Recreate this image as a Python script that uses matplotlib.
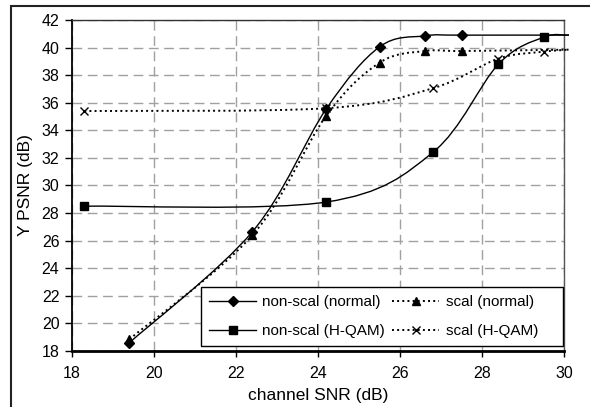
import matplotlib
matplotlib.use("Agg")
import matplotlib.pyplot as plt
from matplotlib.path import Path
from matplotlib.patches import PathPatch, Rectangle
from matplotlib.lines import Line2D

plt.rcParams['font.family'] = ['Liberation Sans', 'DejaVu Sans']
plt.rcParams['font.size'] = 11

# channel SNR (dB) -> Y PSNR (dB); last point sits just past the x-axis end
snr_normal = [19.4, 22.4, 24.2, 25.5, 26.6, 27.5, 30.12]
nonscal_normal = [18.6, 26.65, 35.55, 40.05, 40.85, 40.9, 40.9]
scal_normal = [18.85, 26.4, 35.05, 38.9, 39.75, 39.75, 39.85]

snr_hqam = [18.3, 24.2, 26.8, 28.4, 29.5, 30.12]
nonscal_hqam = [28.5, 28.8, 32.4, 38.8, 40.75, 40.9]
scal_hqam = [35.4, 35.6, 37.05, 39.2, 39.7, 39.85]

labels = ["non-scal (normal)", "non-scal (H-QAM)", "scal (normal)", "scal (H-QAM)"]


def smooth_path(xs, ys):
    # excel-like smoothed line: cubic bezier through every point
    pts = list(zip(xs, ys))
    n = len(pts)
    verts = [pts[0]]
    codes = [Path.MOVETO]
    for i in range(n - 1):
        p0 = pts[i - 1] if i > 0 else pts[i]
        p1 = pts[i]
        p2 = pts[i + 1]
        p3 = pts[i + 2] if i + 2 < n else pts[i + 1]
        c1 = (p1[0] + (p2[0] - p0[0]) / 6, p1[1] + (p2[1] - p0[1]) / 6)
        c2 = (p2[0] - (p3[0] - p1[0]) / 6, p2[1] - (p3[1] - p1[1]) / 6)
        verts += [c1, c2, p2]
        codes += [Path.CURVE4] * 3
    return Path(verts, codes)


fig = plt.figure(figsize=(5.9, 4.07), dpi=100)
ax = fig.add_axes([0.122, 0.1376, 0.834, 0.8133])

series = [
    (snr_normal, nonscal_normal, '-', 'D', 5),
    (snr_hqam, nonscal_hqam, '-', 's', 5.5),
    (snr_normal, scal_normal, ':', '^', 6),
    (snr_hqam, scal_hqam, ':', 'x', 6),
]
handles = []
for (xs, ys, ls, mk, ms), lab in zip(series, labels):
    lw = 1.0 if ls == '-' else 1.4
    patch = PathPatch(smooth_path(xs, ys), facecolor='none', edgecolor='black',
                      linestyle=ls, linewidth=lw, clip_on=False, zorder=3)
    ax.add_patch(patch)
    ax.plot(xs[:-1], ys[:-1], linestyle='none', marker=mk, markersize=ms,
            color='black', markeredgewidth=1.0, zorder=4)
    handles.append(Line2D([], [], color='black', linestyle=ls, linewidth=lw,
                          marker=mk, markersize=ms, markeredgewidth=1.0))

ax.set_xlim(18, 30)
ax.set_ylim(18, 42)
ax.set_xticks(range(18, 31, 2))
ax.set_yticks(range(18, 43, 2))
ax.grid(True, color='#a0a0a0', linestyle=(0, (7, 4)), linewidth=1.0)
ax.set_axisbelow(True)

ax.tick_params(axis='x', direction='out', length=4, width=1, pad=7, labelsize=11.5)
ax.tick_params(axis='y', direction='out', length=5, width=1, pad=4, labelsize=11.5)
ax.spines['left'].set_linewidth(1.3)
ax.spines['bottom'].set_linewidth(2.0)
ax.spines['top'].set_linewidth(1.0)
ax.spines['right'].set_linewidth(1.0)
ax.spines['top'].set_color('#333333')
ax.spines['right'].set_color('#555555')

ax.set_xlabel("channel SNR (dB)", fontsize=12.5, labelpad=5)
ax.set_ylabel("Y PSNR (dB)", fontsize=12.5, labelpad=6)

# excel gives both legend columns the same width: pad the short labels
leg_labels = labels[:2] + [s + " " * 4 for s in labels[2:]]
leg = ax.legend(handles, leg_labels, ncol=2, loc='lower right',
                bbox_to_anchor=(0.997, 0.015), borderaxespad=0,
                fancybox=False, framealpha=1, edgecolor='black',
                handlelength=3.1, handletextpad=0.4, columnspacing=0.45,
                labelspacing=1.0, borderpad=0.5, numpoints=1, fontsize=11)
leg.get_frame().set_linewidth(1.0)

fig.patches.append(Rectangle((11 / 590, -0.1), 1.0, 1.1 - 6 / 407,
                             transform=fig.transFigure, fill=False,
                             edgecolor='#222222', linewidth=1.5))

fig.savefig("out.png", dpi=100)
